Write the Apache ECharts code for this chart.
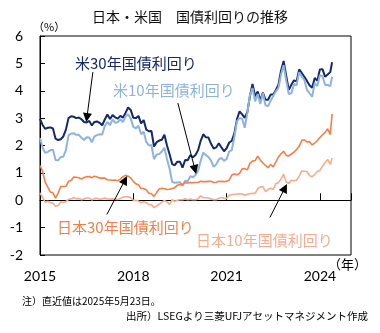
<!DOCTYPE html>
<html>
<head>
<meta charset="utf-8">
<script src="https://cdn.jsdelivr.net/npm/echarts@6/dist/echarts.min.js"></script>
<style>
  html, body { margin: 0; padding: 0; background: #fff; }
  #chart { width: 380px; height: 333px; }
</style>
</head>
<body>
<div id="chart"></div>
<script>
// Month-start observations from 2016-01 to 2025-05, plus the latest close (2025-05-23).
const usYield30 = [
  2.97, 2.75, 2.61, 2.65, 2.66, 2.62, 2.25, 2.20, 2.23, 2.33, 2.58, 3.00,
  3.07, 3.05, 3.00, 3.02, 2.96, 2.86, 2.84, 2.90, 2.73, 2.86, 2.88, 2.83,
  2.74, 2.95, 3.13, 2.97, 3.11, 3.03, 2.98, 3.08, 3.02, 3.19, 3.39, 3.30,
  3.01, 3.00, 3.08, 2.81, 2.93, 2.58, 2.52, 2.53, 1.96, 2.12, 2.18, 2.21,
  2.39, 2.00, 1.68, 1.32, 1.28, 1.41, 1.41, 1.19, 1.47, 1.46, 1.65, 1.57,
  1.65, 1.83, 2.17, 2.41, 2.30, 2.29, 2.06, 1.89, 1.93, 2.08, 1.93, 1.79,
  1.90, 2.11, 2.17, 2.44, 2.96, 3.25, 3.14, 3.01, 3.22, 3.80, 4.25, 3.80,
  3.97, 3.65, 3.93, 3.67, 3.67, 3.86, 3.86, 4.02, 4.22, 4.73, 5.09, 4.54,
  4.03, 4.22, 4.38, 4.34, 4.78, 4.65, 4.51, 4.36, 4.20, 4.11, 4.47, 4.36,
  4.78, 4.79, 4.51, 4.59, 4.68, 5.04
];
const usYield10 = [
  2.27, 1.92, 1.73, 1.77, 1.83, 1.85, 1.47, 1.46, 1.58, 1.59, 1.83, 2.37,
  2.44, 2.45, 2.39, 2.39, 2.28, 2.20, 2.30, 2.29, 2.12, 2.33, 2.38, 2.41,
  2.40, 2.71, 2.86, 2.74, 2.95, 2.83, 2.85, 2.96, 2.86, 3.06, 3.14, 2.99,
  2.68, 2.63, 2.72, 2.41, 2.50, 2.13, 2.00, 2.02, 1.50, 1.67, 1.69, 1.78,
  1.92, 1.51, 1.15, 0.67, 0.64, 0.65, 0.66, 0.53, 0.71, 0.69, 0.88, 0.84,
  0.92, 1.07, 1.44, 1.74, 1.65, 1.58, 1.45, 1.22, 1.31, 1.49, 1.55, 1.44,
  1.51, 1.78, 1.83, 2.32, 2.89, 3.00, 2.98, 2.65, 3.19, 3.83, 4.10, 3.61,
  3.88, 3.52, 3.92, 3.47, 3.44, 3.64, 3.81, 3.97, 4.11, 4.59, 4.93, 4.37,
  3.88, 3.91, 4.25, 4.20, 4.68, 4.51, 4.40, 4.03, 3.91, 3.78, 4.28, 4.17,
  4.57, 4.54, 4.21, 4.21, 4.17, 4.51
];
const jpYield30 = [
  1.27, 1.05, 0.66, 0.48, 0.30, 0.27, 0.08, 0.26, 0.50, 0.50, 0.51, 0.69,
  0.72, 0.85, 0.84, 0.82, 0.78, 0.83, 0.86, 0.87, 0.82, 0.88, 0.85, 0.81,
  0.81, 0.81, 0.75, 0.74, 0.73, 0.74, 0.71, 0.77, 0.86, 0.91, 0.88, 0.82,
  0.69, 0.60, 0.56, 0.43, 0.43, 0.38, 0.26, 0.24, 0.14, 0.28, 0.41, 0.44,
  0.42, 0.39, 0.40, 0.43, 0.46, 0.55, 0.57, 0.57, 0.64, 0.63, 0.65, 0.64,
  0.65, 0.65, 0.69, 0.68, 0.68, 0.69, 0.69, 0.65, 0.66, 0.69, 0.69, 0.68,
  0.69, 0.73, 0.92, 0.96, 0.93, 0.98, 1.15, 1.15, 1.11, 1.35, 1.43, 1.45,
  1.61, 1.47, 1.36, 1.27, 1.19, 1.31, 1.22, 1.40, 1.58, 1.70, 1.79, 1.64,
  1.62, 1.69, 1.76, 1.85, 1.97, 2.18, 2.21, 2.13, 2.14, 2.02, 2.09, 2.18,
  2.29, 2.39, 2.48, 2.61, 2.40, 3.15
];
const jpYield10 = [
  0.27, 0.10, -0.07, -0.04, -0.08, -0.11, -0.22, -0.19, -0.06, -0.08, -0.05, 0.03,
  0.05, 0.09, 0.06, 0.07, 0.02, 0.05, 0.08, 0.08, 0.01, 0.06, 0.07, 0.04,
  0.05, 0.08, 0.05, 0.04, 0.05, 0.04, 0.03, 0.06, 0.11, 0.13, 0.13, 0.09,
  0.00, 0.00, -0.03, -0.09, -0.05, -0.09, -0.16, -0.16, -0.27, -0.21, -0.14, -0.07,
  -0.01, -0.06, -0.15, 0.02, -0.04, 0.00, 0.02, 0.02, 0.05, 0.02, 0.04, 0.02,
  0.02, 0.05, 0.16, 0.09, 0.09, 0.08, 0.05, 0.02, 0.02, 0.07, 0.10, 0.07,
  0.07, 0.18, 0.20, 0.22, 0.23, 0.24, 0.23, 0.18, 0.22, 0.24, 0.25, 0.25,
  0.42, 0.49, 0.50, 0.32, 0.39, 0.44, 0.40, 0.60, 0.65, 0.77, 0.95, 0.67,
  0.61, 0.73, 0.71, 0.73, 0.88, 1.07, 1.06, 1.05, 0.90, 0.86, 0.94, 1.05,
  1.09, 1.24, 1.37, 1.49, 1.31, 1.54
];

// Tick labels placed every 36 months along the month axis
const tickLabels = ['2015', '2018', '2021', '2024'];
const TICK_STEP = 36;
const AXIS_MONTHS = 120;
const LAST_OBS_FRACTION = 22 / 31; // 2025-05-23 sits 22 days into May

const seriesNames = ['米30年国債利回り', '米10年国債利回り', '日本30年国債利回り', '日本10年国債利回り'];
const seriesColors = ['#13296b', '#8db3e2', '#fa7d45', '#fbab8b'];
const seriesValues = [usYield30, usYield10, jpYield30, jpYield10];

// x position (months since 2016-01) of each observation
function monthOf(i, n) {
  return i < n - 1 ? i : (n - 2) + LAST_OBS_FRACTION;
}
function toPairs(values) {
  return values.map((v, i) => [monthOf(i, values.length), v]);
}

// Pointer arrows from each caption to its line, in [month, %] coordinates
const arrows = [
  [[20.4, 4.68], [18.1, 3.02]],
  [[53.2, 3.55], [59.8, 1.12]],
  [[25.8, -0.52], [32.8, 0.74]],
  [[88.7, -0.63], [94.5, 0.45]]
];

const CJK = '"Noto Sans CJK JP", "Noto Sans", sans-serif';
const NUM = 'Lato, "Liberation Sans", sans-serif';

const chart = echarts.init(document.getElementById('chart'), null, { renderer: 'canvas' });

const series = seriesValues.map((vals, k) => ({
  name: seriesNames[k],
  type: 'line',
  data: toPairs(vals),
  showSymbol: false,
  symbol: 'none',
  lineStyle: { color: seriesColors[k], width: k < 2 ? 2 : 1.6 },
  itemStyle: { color: seriesColors[k] },
  z: 2 + k,
  silent: true
}));

// Black leader arrows, drawn on top of all lines
series.push({
  name: 'arrows',
  type: 'lines',
  coordinateSystem: 'cartesian2d',
  silent: true,
  z: 10,
  symbol: ['none', 'triangle'],
  symbolSize: 9,
  lineStyle: { color: '#000', width: 1, opacity: 1 },
  itemStyle: { color: '#000' },
  data: arrows.map(a => ({ coords: a }))
});

const captions = [
  { text: seriesNames[0], x: 75, y: 63, color: seriesColors[0] },
  { text: seriesNames[1], x: 113, y: 90, color: seriesColors[1] },
  { text: seriesNames[2], x: 57, y: 227, color: seriesColors[2] },
  { text: seriesNames[3], x: 196, y: 240, color: seriesColors[3] }
];

chart.setOption({
  animation: false,
  backgroundColor: '#fff',
  title: {
    text: '日本・米国　国債利回りの推移',
    left: 'center',
    top: 5,
    textStyle: { fontFamily: CJK, fontSize: 14, fontWeight: 'normal', color: '#111' }
  },
  grid: {
    left: 40, right: 29, top: 36, bottom: 78,
    show: true, borderColor: '#000', borderWidth: 1, backgroundColor: 'transparent'
  },
  xAxis: [
    {
      type: 'value', min: 0, max: AXIS_MONTHS, interval: TICK_STEP,
      axisLine: { show: true, onZero: true, lineStyle: { color: '#000', width: 1 } },
      axisTick: { show: true, inside: true, length: 7, lineStyle: { color: '#000' } },
      axisLabel: { show: false },
      splitLine: { show: false }
    },
    {
      type: 'value', min: 0, max: AXIS_MONTHS, interval: TICK_STEP, position: 'bottom',
      axisLine: { show: false, onZero: false },
      axisTick: { show: false },
      splitLine: { show: false },
      axisLabel: {
        show: true, margin: 14, fontFamily: NUM, fontSize: 14, color: '#000',
        showMaxLabel: false,
        formatter: v => tickLabels[Math.round(v / TICK_STEP)] || ''
      }
    }
  ],
  yAxis: {
    type: 'value', min: -2, max: 6, interval: 1,
    axisLine: { show: true, lineStyle: { color: '#000', width: 1 } },
    axisTick: { show: true, inside: true, length: 5, lineStyle: { color: '#000' } },
    splitLine: { show: false },
    axisLabel: { margin: 17, fontFamily: NUM, fontSize: 14, color: '#000' }
  },
  series: series,
  graphic: [
    ...captions.map(c => ({
      type: 'text', x: c.x, y: c.y, silent: true, z: 20,
      style: { text: c.text, fill: c.color, font: '15px ' + CJK, textVerticalAlign: 'middle' }
    })),
    { type: 'text', x: 33, y: 27, silent: true,
      style: { text: '（%）', fill: '#000', font: '11px ' + CJK, textVerticalAlign: 'middle' } },
    { type: 'text', x: 328, y: 264, silent: true,
      style: { text: '（年）', fill: '#000', font: '13px ' + CJK, textVerticalAlign: 'middle' } },
    { type: 'text', x: 22, y: 301, silent: true,
      style: { text: '注）直近値は2025年5月23日。', fill: '#000', font: '10px ' + CJK, textVerticalAlign: 'middle' } },
    { type: 'text', x: 368, y: 316, silent: true,
      style: { text: '出所）LSEGより三菱UFJアセットマネジメント作成', fill: '#000', font: '10.5px ' + CJK,
               textAlign: 'right', textVerticalAlign: 'middle' } }
  ]
});
</script>
</body>
</html>
